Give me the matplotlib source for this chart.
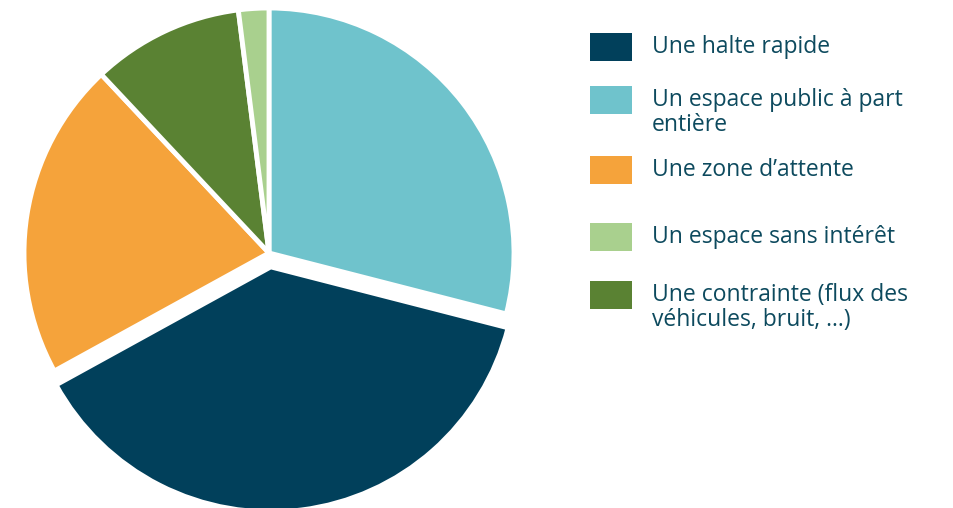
import matplotlib.pyplot as plt
from matplotlib.patches import Rectangle

# Parts des réponses, dans l'ordre du camembert (sens horaire depuis midi)
pie_labels = ['Un espace public à part\nentière', 'Une halte rapide', 'Une zone d’attente',
              'Une contrainte (flux des\nvéhicules, bruit, …)', 'Un espace sans intérêt']
pie_values = [29, 38, 21, 10, 2]
pie_colors = ['#6fc3cc', '#01405b', '#f5a33b', '#5a8233', '#a9d08e']

# Ordre de la légende
legend_labels = ['Une halte rapide', 'Un espace public à part\nentière', 'Une zone d’attente',
                 'Un espace sans intérêt', 'Une contrainte (flux des\nvéhicules, bruit, …)']

W, H = 954, 508
fig = plt.figure(figsize=(W / 100, H / 100), dpi=100)
ax = fig.add_axes([0, 0, 1, 1])
ax.axis('off')

# l'explode de matplotlib est en unités de données (ici des pixels)
explode = [14 if l == 'Une halte rapide' else 0 for l in pie_labels]
ax.pie(pie_values, colors=pie_colors, startangle=90, counterclock=False,
       center=(269, H - 253), radius=245, explode=explode,
       wedgeprops=dict(edgecolor='white', linewidth=3.5, joinstyle='miter'))
ax.set_xlim(0, W)
ax.set_ylim(0, H)
ax.set_aspect('equal')

color_of = dict(zip(pie_labels, pie_colors))
tops = [33, 86, 156, 223, 281]
for lab, top in zip(legend_labels, tops):
    ax.add_patch(Rectangle((590, H - top - 28), 42, 28, color=color_of[lab], lw=0))
    for i, line in enumerate(lab.split('\n')):
        ax.text(652, H - top - 20 - 25 * i, line, fontsize=16.5, family='Open Sans',
                color='#0d4a5e', va='baseline')

fig.savefig('out.png', dpi=100)
